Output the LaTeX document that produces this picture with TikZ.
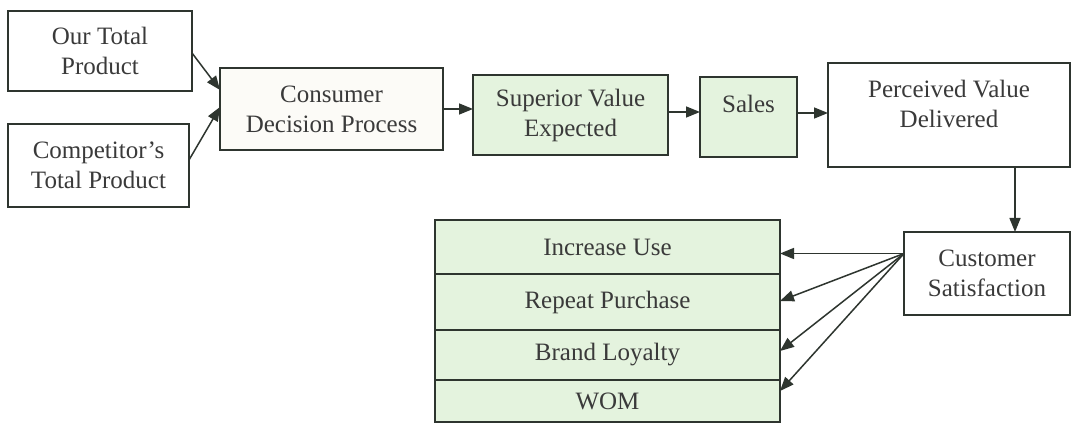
\documentclass[tikz,border=0pt]{standalone}
\usepackage{fontspec}
\setmainfont{Liberation Serif}
\usetikzlibrary{arrows.meta}
\definecolor{ink}{HTML}{2E352F}
\definecolor{txt}{HTML}{3A3A3A}
\definecolor{palegreen}{HTML}{E4F3DE}
\definecolor{paper}{HTML}{FCFBF7}
\tikzset{
  box/.style={draw=ink, line width=1.5pt, inner sep=0pt, outer sep=0pt,
              align=center, text=txt, fill=white},
  label/.style={align=center, text=txt, inner sep=0pt},
  arr/.style={draw=ink, line width=1.5pt, -{Triangle[length=14pt,width=11pt]}}
}
\begin{document}
\begin{tikzpicture}[x=1pt, y=-1pt, font=\fontsize{25}{30}\selectfont]
\useasboundingbox[fill=white] (0,0) rectangle (1073,427);

% left inputs
\node[box, minimum width=184pt, minimum height=80pt] (our) at (100,51) {Our Total\\Product};
\node[box, minimum width=181pt, minimum height=83pt] (comp) at (98.5,165.5) {Competitor’s\\Total Product};

% main chain
\node[box, fill=paper, minimum width=223pt, minimum height=82pt] (cdp) at (331.5,109) {Consumer\\Decision Process};
\node[box, fill=palegreen, minimum width=195pt, minimum height=80pt] (sve) at (570.5,115) {Superior Value\\Expected};
\node[box, fill=palegreen, minimum width=97pt, minimum height=80pt] (sales) at (748.5,117) {};
\node[label] (salestext) at (748.5,104) {Sales};
\node[box, minimum width=242pt, minimum height=104pt] (pvd) at (949,115) {};
\node[label] (pvdtext) at (949,104) {Perceived Value\\Delivered};
\node[box, minimum width=166pt, minimum height=83pt] (cs) at (987,273.5) {Customer\\Satisfaction};

% outcome list
\node[box, fill=palegreen, minimum width=345pt, minimum height=54pt] (r1) at (607.5,247) {Increase Use};
\node[box, fill=palegreen, minimum width=345pt, minimum height=56pt] (r2) at (607.5,302) {Repeat Purchase};
\node[box, fill=palegreen, minimum width=345pt, minimum height=50pt] (r3) at (607.5,355) {Brand Loyalty};
\node[box, fill=palegreen, minimum width=345pt, minimum height=42pt] (r4) at (607.5,401) {WOM};

% connectors
\draw[arr] ([yshift=-2pt]our.east) -- ([yshift=19pt]cdp.west);
\draw[arr] ([yshift=5.5pt]comp.east) -- ([yshift=2pt]cdp.west);
\draw[arr] (cdp.east) -- (cdp.east -| sve.west);
\draw[arr] ([yshift=3pt]sve.east) -- ([yshift=3pt]sve.east -| sales.west);
\draw[arr] ([yshift=4pt]sales.east) -- ([yshift=4pt]sales.east -| pvd.west);
\coordinate (drop) at ([xshift=66pt]pvd.south);
\draw[arr] (drop) -- (drop |- cs.north);

\coordinate (hub) at ([yshift=20pt]cs.west);
\draw[arr] (hub) -- (hub -| r1.east);
\draw[arr] (hub) -- ([yshift=1pt]r2.east);
\draw[arr] (hub) -- ([yshift=4pt]r3.east);
\draw[arr] (hub) -- ([yshift=10pt]r4.east);
\end{tikzpicture}
\end{document}
